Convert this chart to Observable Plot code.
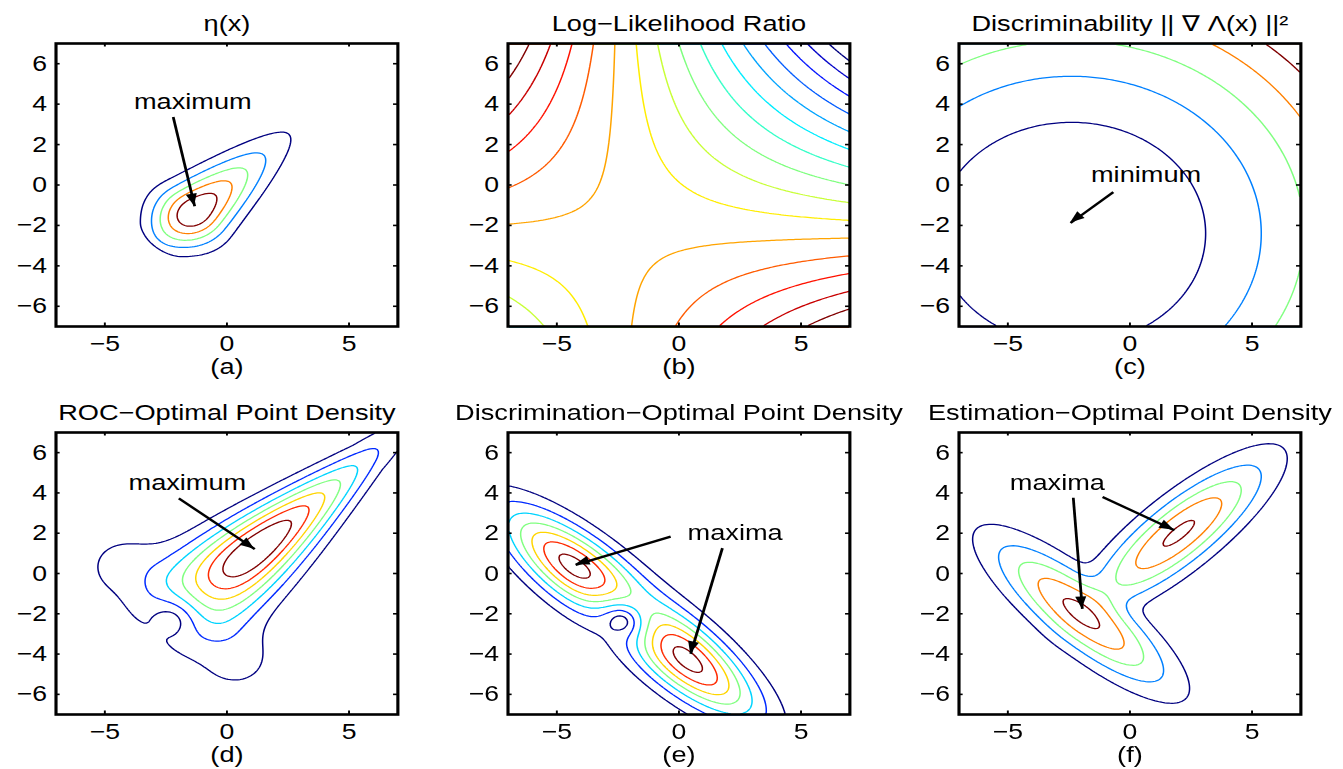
<!DOCTYPE html>
<html>
<head>
<meta charset="utf-8">
<script src="https://cdn.jsdelivr.net/npm/d3@7"></script>
<script src="https://cdn.jsdelivr.net/npm/@observablehq/plot@0.6"></script>
<style>
  body { margin: 0; background: #fff; }
  #fig { position: relative; width: 1343px; height: 769px; overflow: hidden; background: #fff;
         font-family: "Liberation Sans", Arial, Helvetica, sans-serif; }
  .panel { position: absolute; transform-origin: 0 0; }
  .panel svg { overflow: visible; }
</style>
</head>
<body>
<div id="fig"></div>
<script>
// ---------------- data ----------------
const axisDomain = [-7, 7];
const xTicks = [-5, 0, 5];
const yTicks = [-6, -4, -2, 0, 2, 4, 6];
const panelTitles = ["η(x)", "Log−Likelihood Ratio", "Discriminability || ∇ Λ(x) ||²",
                     "ROC−Optimal Point Density", "Discrimination−Optimal Point Density", "Estimation−Optimal Point Density"];
const panelLabels = ["(a)", "(b)", "(c)", "(d)", "(e)", "(f)"];

// the two Gaussian hypotheses
const meanA = [-2, -2];
const covA = [[3, -2.5], [-2.5, 3]];
const meanB = [2, 2];
const covB = [[3, 2.5], [2.5, 3]];

const etaPeakP = -1.84;                         // peak position along the diagonal axis
const etaLowSigma = 1.39;                       // lower-left fall-off
const etaLowCut = [2.0, 2.0];                   // extra fall-off beyond this distance
const etaHighTail = [0.15, 0.035, 0.3];         // upper-right tail
const etaCrossSigma = [1.0, 0.055, 0.05, 0.45]; // at peak, slope, curvature below peak, minimum
const etaArmCenter = [-2, -2];
const etaArmSigma = [1.6, 1.1];
const etaArmWeight = 0.043;

// contour levels
const levelsA = [1/6, 2/6, 3/6, 4/6, 5/6];                         // fraction of max
const levelCountB = 15;                                           // evenly spaced over range
const levelsC = [100, 200, 300, 400, 500];                        // absolute
const levelsD = [0.125, 0.25, 0.375, 0.5, 0.625, 0.75, 0.875];    // fraction of max
const levelsE = [0.135, 0.27, 0.405, 0.54, 0.675, 0.81, 0.945];   // fraction of max
const levelsF = [0.188, 0.376, 0.564, 0.752, 0.94];               // fraction of max

// annotations: [label, labelX, labelY], arrows [x1,y1,x2,y2]
const notes = {
  0: {text: ["maximum", -1.4, 4.14], arrows: [[-2.2, 3.36, -1.32, -1.05]]},
  2: {text: ["minimum", 0.66, 0.52], arrows: [[-0.68, -0.35, -2.43, -1.88]]},
  3: {text: ["maximum", -1.62, 4.5], arrows: [[-1.97, 3.73, 1.14, 1.21]]},
  4: {text: ["maxima", 2.3, 2.03], arrows: [[-0.34, 1.83, -4.23, 0.43], [1.78, 1.26, 0.48, -3.99]]},
  5: {text: ["maxima", -2.97, 4.49], arrows: [[-2.32, 3.76, -1.95, -1.76], [-1.12, 3.8, 1.82, 2.15]]}
};

// layout (page pixels)
const frameLeft = [55.5, 507.5, 958.7];
const frameTop = [43.1, 431.7];
const stretchX = 1.208;
const frameW = 283, frameH = [283, 282];
const M = {top: 45, right: 20, bottom: 55, left: 50};

// ---------------- fields ----------------
function gauss(x, y, m, C) {
  const dx = x - m[0], dy = y - m[1];
  const det = C[0][0] * C[1][1] - C[0][1] * C[1][0];
  const q = (C[1][1] * dx * dx - 2 * C[0][1] * dx * dy + C[0][0] * dy * dy) / det;
  return Math.exp(-q / 2) / (2 * Math.PI * Math.sqrt(det));
}
function gradLog(x, y, m, C) {
  const dx = x - m[0], dy = y - m[1];
  const det = C[0][0] * C[1][1] - C[0][1] * C[1][0];
  return [-(C[1][1] * dx - C[0][1] * dy) / det, -(-C[1][0] * dx + C[0][0] * dy) / det];
}
const qA = (x, y) => gauss(x, y, meanA, covA);
const qB = (x, y) => gauss(x, y, meanB, covB);
const llr = (x, y) => Math.log(qA(x, y)) - Math.log(qB(x, y));
function discr(x, y) {
  const a = gradLog(x, y, meanA, covA), b = gradLog(x, y, meanB, covB);
  const gx = a[0] - b[0], gy = a[1] - b[1];
  return gx * gx + gy * gy;
}
function eta(x, y) {
  const p = (x + y) / Math.SQRT2, q = (y - x) / Math.SQRT2;
  const d = p - etaPeakP;
  let h;
  if (d <= 0) {
    const extra = Math.max(0, -d - etaLowCut[0]);
    h = Math.exp(-d * d / (2 * etaLowSigma * etaLowSigma) - etaLowCut[1] * extra * extra);
  } else {
    const [a, b, c] = etaHighTail;
    h = Math.exp(-(a * (Math.sqrt(d * d + c * c) - c) + b * d * d));
  }
  const sq = d > 0 ? Math.max(etaCrossSigma[3], etaCrossSigma[0] - etaCrossSigma[1] * d)
                   : Math.max(etaCrossSigma[3], etaCrossSigma[0] - etaCrossSigma[1] * d - etaCrossSigma[2] * d * d);
  const main = h * Math.exp(-q * q / (2 * sq * sq));
  const ax = x - etaArmCenter[0], ay = y - etaArmCenter[1];
  const t = (ay - ax) / Math.SQRT2, del = (ax + ay) / Math.SQRT2;
  const sa = etaArmSigma[0], sd = etaArmSigma[1];
  const arm = etaArmWeight * (t * t / (sa * sa)) * Math.exp(-t * t / (2 * sa * sa) - del * del / (2 * sd * sd));
  return main + arm;
}
const fields = [
  eta,
  llr,
  discr,
  (x, y) => Math.sqrt(eta(x, y) * discr(x, y)),
  (x, y) => Math.sqrt(qA(x, y) * discr(x, y)),
  (x, y) => Math.sqrt(0.5 * qA(x, y) + 0.5 * qB(x, y))
];

function extentOf(fn) {
  let lo = Infinity, hi = -Infinity;
  const n = 281;
  for (let i = 0; i < n; i++) for (let j = 0; j < n; j++) {
    const x = axisDomain[0] + (axisDomain[1] - axisDomain[0]) * i / (n - 1);
    const y = axisDomain[0] + (axisDomain[1] - axisDomain[0]) * j / (n - 1);
    const v = fn(x, y);
    if (v < lo) lo = v; if (v > hi) hi = v;
  }
  return [lo, hi];
}
function levelsFor(k) {
  const [lo, hi] = extentOf(fields[k]);
  if (k === 0) return levelsA.map(f => f * hi);
  if (k === 1) return d3.range(1, levelCountB + 1).map(i => lo + (hi - lo) * i / (levelCountB + 1));
  if (k === 2) return levelsC;
  if (k === 3) return levelsD.map(f => f * hi);
  if (k === 4) return levelsE.map(f => f * hi);
  return levelsF.map(f => f * hi);
}

function jet(t) {
  const c = v => Math.max(0, Math.min(1, v));
  const r = c(1.5 - Math.abs(4 * t - 3)), g = c(1.5 - Math.abs(4 * t - 2)), b = c(1.5 - Math.abs(4 * t - 1));
  return `rgb(${Math.round(r * 255)},${Math.round(g * 255)},${Math.round(b * 255)})`;
}
const fmt = d => (d < 0 ? "\u2212" + Math.abs(d) : String(d));

function arrowHeads(arrows) {
  return (index, scales) => {
    const g = d3.create("svg:g");
    for (const a of arrows) {
      const x1 = scales.x(a[0]), y1 = scales.y(a[1]), x2 = scales.x(a[2]), y2 = scales.y(a[3]);
      const dx = x2 - x1, dy = y2 - y1, L = Math.hypot(dx, dy);
      const ux = dx / L, uy = dy / L, nx = -uy, ny = ux;
      const hl = 12, hw = 4.6;
      const bx = x2 - ux * hl, by = y2 - uy * hl;
      g.append("path")
        .attr("d", `M${x2},${y2}L${bx + nx * hw},${by + ny * hw}L${bx - nx * hw},${by - ny * hw}Z`)
        .attr("fill", "black");
    }
    return g.node();
  };
}

const fig = document.getElementById("fig");
for (let k = 0; k < 6; k++) {
  const row = Math.floor(k / 3), col = k % 3;
  const H = frameH[row];
  const levels = levelsFor(k);
  const marks = [];
  levels.forEach((lv, i) => {
    marks.push(Plot.contour({
      x1: axisDomain[0], y1: axisDomain[0], x2: axisDomain[1], y2: axisDomain[1],
      value: fields[k], thresholds: [lv],
      stroke: jet(levels.length > 1 ? i / (levels.length - 1) : 0), strokeWidth: 1.25, fill: "none"
    }));
  });
  // inner ticks on all four sides
  marks.push(Plot.ruleX(xTicks, {x: d => d, insetTop: H - 3.5, stroke: "black", strokeWidth: 1.6}));
  marks.push(Plot.ruleX(xTicks, {x: d => d, insetBottom: H - 3.5, stroke: "black", strokeWidth: 1.6}));
  marks.push(Plot.ruleY(yTicks, {y: d => d, insetRight: frameW - 3.5, stroke: "black", strokeWidth: 1.6}));
  marks.push(Plot.ruleY(yTicks, {y: d => d, insetLeft: frameW - 3.5, stroke: "black", strokeWidth: 1.6}));
  marks.push(Plot.frame({stroke: "black", strokeWidth: 2.6}));
  // tick labels
  marks.push(Plot.text(xTicks, {x: d => d, y: axisDomain[0], dy: 17.5, text: fmt, fontSize: 22, fill: "black", lineAnchor: "middle"}));
  marks.push(Plot.text(yTicks, {x: axisDomain[0], y: d => d, dx: -7.5, text: fmt, textAnchor: "end", fontSize: 22, fill: "black", lineAnchor: "middle"}));
  // title and sub-label
  marks.push(Plot.text([panelTitles[k]], {frameAnchor: "top", dy: -20, text: d => d, fontSize: 22.5, fill: "black", lineAnchor: "middle"}));
  marks.push(Plot.text([panelLabels[k]], {frameAnchor: "bottom", dy: 40, text: d => d, fontSize: 22.5, fill: "black", lineAnchor: "middle"}));
  // annotations
  const note = notes[k];
  if (note) {
    marks.push(Plot.text([note.text], {x: d => d[1], y: d => d[2], text: d => d[0], fontSize: 22.5, fill: "black", lineAnchor: "middle"}));
    marks.push(Plot.link(note.arrows, {x1: d => d[0], y1: d => d[1], x2: d => d[2], y2: d => d[3], stroke: "black", strokeWidth: 2.3}));
    marks.push(arrowHeads(note.arrows));
  }
  const svg = Plot.plot({
    width: M.left + frameW + M.right,
    height: M.top + H + M.bottom,
    marginTop: M.top, marginRight: M.right, marginBottom: M.bottom, marginLeft: M.left,
    x: {domain: axisDomain, axis: null},
    y: {domain: axisDomain, axis: null},
    style: {fontFamily: "'Liberation Sans', Arial, Helvetica, sans-serif", background: "transparent", overflow: "visible", maxWidth: "none"},
    marks
  });
  const div = document.createElement("div");
  div.className = "panel";
  div.style.left = (frameLeft[col] - M.left * stretchX) + "px";
  div.style.top = (frameTop[row] - M.top) + "px";
  div.style.width = (M.left + frameW + M.right) + "px";
  div.style.transform = `scale(${stretchX}, 1)`;
  div.appendChild(svg);
  fig.appendChild(div);
}
</script>
</body>
</html>
